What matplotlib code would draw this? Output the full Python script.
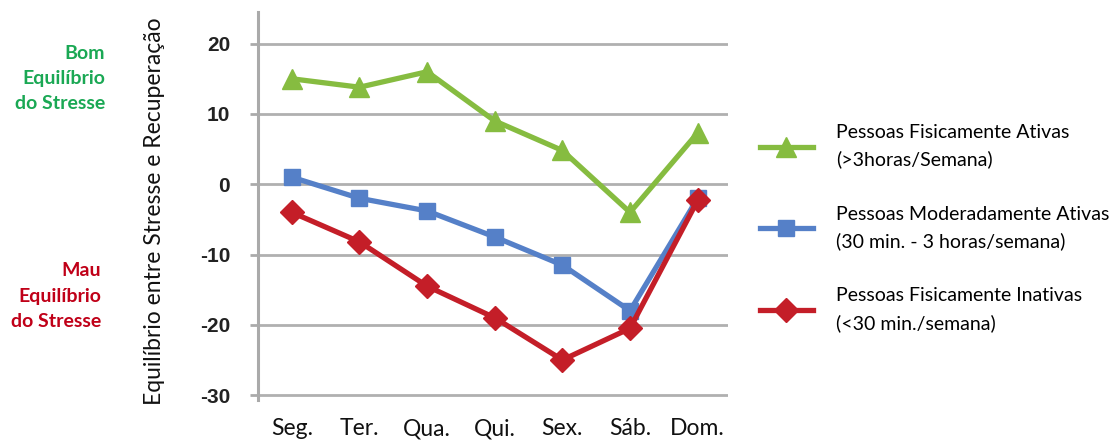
import matplotlib.pyplot as plt

# chart data
days = ['Seg.', 'Ter.', 'Qua.', 'Qui.', 'Sex.', 'Sáb.', 'Dom.']
ativas = [15, 13.8, 16, 9, 4.8, -4, 7.3]
moderadas = [1, -2, -3.8, -7.5, -11.5, -18, -2]
inativas = [-4, -8.2, -14.5, -19, -25, -20.5, -2.3]

labels = ['Pessoas Fisicamente Ativas\n(>3horas/Semana)',
          'Pessoas Moderadamente Ativas\n(30 min. - 3 horas/semana)',
          'Pessoas Fisicamente Inativas\n(<30 min./semana)']
yticks = [20, 10, 0, -10, -20, -30]

text_font = ['Lato', 'DejaVu Sans']
num_font = ['Liberation Sans', 'DejaVu Sans']

fig = plt.figure(figsize=(11.15, 4.44), dpi=100)
ax = fig.add_axes([0.2314, 0.099, 0.4216, 0.874])

x = list(range(len(days)))
ax.plot(x, ativas, color='#86bc40', lw=3.8, marker='^', ms=14, label=labels[0], zorder=3)
ax.plot(x, moderadas, color='#5580c8', lw=3.8, marker='s', ms=12, label=labels[1], zorder=4)
ax.plot(x, inativas, color='#c41e28', lw=3.8, marker='D', ms=12, label=labels[2], zorder=5)

ax.set_xlim(-0.5, 6.45)
ax.set_ylim(-30.7, 24.5)
ax.set_yticks(yticks)
ax.set_yticklabels([str(v) for v in yticks], fontsize=15, fontweight='bold',
                   family=num_font, color='#222222')
ax.set_xticks(x)
ax.set_xticklabels(days, fontsize=16.5, family=text_font, color='#111111')
ax.tick_params(axis='x', length=0, pad=13)
ax.tick_params(axis='y', length=6, width=2, color='#aaaaaa', pad=14)

for s in ['top', 'right', 'bottom']:
    ax.spines[s].set_visible(False)
ax.spines['left'].set_color('#aaaaaa')
ax.spines['left'].set_linewidth(2.2)
ax.grid(axis='y', color='#b0b0b0', lw=2)
ax.set_axisbelow(True)

fig.text(0.139, 0.525, 'Equilíbrio entre Stresse e Recuperação', rotation=90,
         ha='center', va='center', fontsize=16.5, family=text_font, color='#111111')

fig.text(0.094, 0.823, 'Bom\nEquilíbrio\ndo Stresse', ha='right', va='center',
         fontsize=14, fontweight='bold', family=text_font, color='#1aa854',
         linespacing=1.6)
fig.text(0.091, 0.333, 'Mau\nEquilíbrio\ndo Stresse', ha='right', va='center',
         fontsize=14, fontweight='bold', family=text_font, color='#c00018',
         linespacing=1.6)

leg = fig.legend(loc='upper left', bbox_to_anchor=(0.666, 0.76), frameon=False,
                 prop={'family': text_font, 'size': 14}, handlelength=2.7,
                 handletextpad=1.2, labelspacing=1.9)
for t in leg.get_texts():
    t.set_linespacing(1.65)

fig.savefig('out.png', dpi=100)
